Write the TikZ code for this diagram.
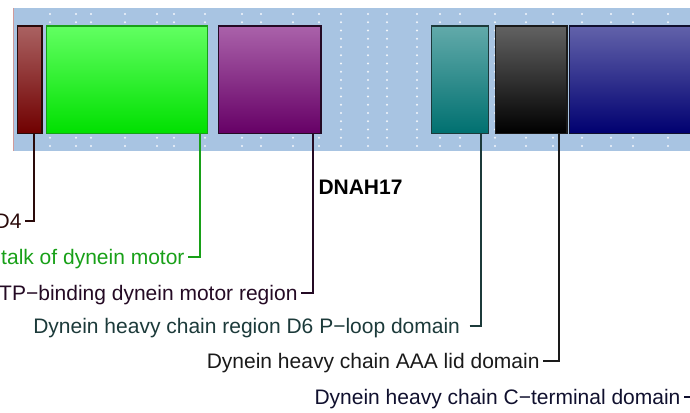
\documentclass[tikz,border=0pt]{standalone}
\usepackage{fontspec}
\setmainfont{Liberation Sans}
\definecolor{bgblue}{HTML}{A8C4E2}
\definecolor{edgepink}{HTML}{D09A9A}
\definecolor{redT}{HTML}{AA6262}
\definecolor{redB}{HTML}{700000}
\definecolor{redD}{HTML}{2A0A0A}
\definecolor{grnT}{HTML}{62FF62}
\definecolor{grnB}{HTML}{00E000}
\definecolor{grnD}{HTML}{18A018}
\definecolor{purT}{HTML}{AA62AA}
\definecolor{purB}{HTML}{660066}
\definecolor{purD}{HTML}{240A24}
\definecolor{tealT}{HTML}{62AAAA}
\definecolor{tealB}{HTML}{007070}
\definecolor{tealD}{HTML}{1C3A3A}
\definecolor{blkT}{HTML}{626262}
\definecolor{blkB}{HTML}{000000}
\definecolor{blkD}{HTML}{1A1A1A}
\definecolor{navT}{HTML}{6262AA}
\definecolor{navB}{HTML}{000070}
\definecolor{navD}{HTML}{10102E}
\tikzset{
  dombox/.style={draw, line width=1.3pt, inner sep=0pt, anchor=north west, minimum height=107.4pt},
  lbl/.style={inner ysep=0pt, inner xsep=3.5pt, outer sep=0pt, text height=15pt, text depth=0pt,
              anchor=base east, font=\fontsize{21}{21}\selectfont},
  conn/.style={line width=2pt},
  griddot/.style={fill=white, opacity=0.85}
}
\begin{document}
\begin{tikzpicture}[x=1pt,y=-1pt]
\useasboundingbox (0,0) rectangle (690,412);
\clip (0,0) rectangle (690,412);
% background strip
\fill[bgblue] (13,8) rectangle (695,150.5);
\draw[edgepink, line width=1pt] (13.5,8) -- (13.5,150.5);
% grid dots
\foreach \x in {50,76,91,125,157,174,205,242,261,293,319,341,368,387,417,440,460,495,526,553,582,611,633,668}{
  \foreach \k in {0,...,16}{
    \fill[griddot] (\x,{14+8.25*\k}) circle (1.05);
  }
}
% domains
\node[dombox, minimum width=24.3pt, top color=redT, bottom color=redB, draw=redD] (red) at (17,25.3) {};
\node[dombox, minimum width=161pt, top color=grnT, bottom color=grnB, draw=grnD] (green) at (46,25.3) {};
\node[dombox, minimum width=102.3pt, top color=purT, bottom color=purB, draw=purD] (purple) at (218,25.3) {};
\node[dombox, minimum width=57pt, top color=tealT, bottom color=tealB, draw=tealD] (teal) at (431,25.3) {};
\node[dombox, minimum width=71.6pt, top color=blkT, bottom color=blkB, draw=blkD] (black) at (494.7,25.3) {};
\node[dombox, minimum width=135pt, top color=navT, bottom color=navB, draw=navD] (navy) at (568.7,25.3) {};
% title
\node[font=\bfseries\fontsize{21}{21}\selectfont, anchor=base west, inner sep=0pt] (title) at (318.3,194.3) {DNAH17};
% labels
\node[lbl, text=redD] (d4) at (25,228.5) {D4};
\node[lbl, text=grnD] (stalk) at (188,264.5) {talk of dynein motor};
\node[lbl, text=purD] (atp) at (301,300.2) {TP−binding dynein motor region};
\node[lbl, text=tealD, inner xsep=9.5pt] (ploop) at (469.5,333.5) {Dynein heavy chain region D6 P−loop domain};
\node[lbl, text=blkD] (lid) at (543,368.5) {Dynein heavy chain AAA lid domain};
\node[lbl, text=navD] (cterm) at (684,404.5) {Dynein heavy chain C−terminal domain};
% connector anchors on the domain bottoms
\coordinate (redfoot) at (33.7,132.7);
\coordinate (grnfoot) at (199.7,132.7);
\coordinate (purfoot) at (312.7,132.7);
\coordinate (tealfoot) at (480.5,132.7);
\coordinate (blkfoot) at (558.7,132.7);
\coordinate (navend) at (692,397);
% connectors
\draw[conn, redD] (d4.east) -| (redfoot);
\draw[conn, grnD] (stalk.east) -| (grnfoot);
\draw[conn, purD] (atp.east) -| (purfoot);
\draw[conn, tealD] (ploop.east) -| (tealfoot);
\draw[conn, blkD] (lid.east) -| (blkfoot);
\draw[conn, navD] (cterm.east) -- (navend);
\end{tikzpicture}
\end{document}
